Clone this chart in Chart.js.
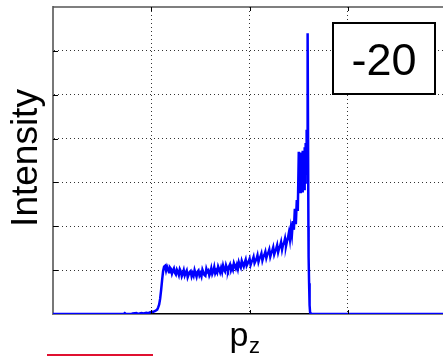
<!DOCTYPE html>
<html>
<head>
<meta charset="utf-8">
<script src="https://cdn.jsdelivr.net/npm/chart.js@4.4.1/dist/chart.umd.min.js"></script>
<style>
  html, body { margin: 0; padding: 0; background: #fff; }
  #plot { display: block; }
</style>
</head>
<body>
<canvas id="plot" width="443" height="356"></canvas>
<script>
// momentum axis (arbitrary units, one unit per grid cell)
const pz = [
  0, 0.70, 0.72, 0.73, 0.74, 0.80, 0.81, 0.85, 0.86, 0.90, 0.92, 0.95, 0.97, 0.99,
  1.02, 1.04, 1.06, 1.07, 1.08, 1.09, 1.10, 1.11, 1.12, 1.13,
  1.14, 1.15, 1.16, 1.17, 1.18, 1.19, 1.20, 1.21, 1.22, 1.23, 1.24, 1.25, 1.26, 1.27, 1.28, 1.29,
  1.30, 1.31, 1.32, 1.33, 1.34, 1.35, 1.36, 1.37, 1.38, 1.39, 1.40, 1.41, 1.42, 1.43, 1.44, 1.45,
  1.46, 1.47, 1.48, 1.49, 1.50, 1.51, 1.52, 1.53, 1.54, 1.55, 1.56, 1.57, 1.58, 1.59, 1.60, 1.61,
  1.62, 1.63, 1.64, 1.65, 1.66, 1.67, 1.68, 1.69, 1.70, 1.71, 1.72, 1.73, 1.74, 1.75, 1.76, 1.77,
  1.78, 1.79, 1.80, 1.81, 1.82, 1.83, 1.84, 1.85, 1.86, 1.87, 1.88, 1.89, 1.90, 1.91, 1.92, 1.93,
  1.94, 1.95, 1.96, 1.97, 1.98, 1.99, 2.00, 2.01, 2.02, 2.03, 2.04, 2.05, 2.06, 2.07, 2.08, 2.09,
  2.10, 2.11, 2.12, 2.13, 2.14, 2.15, 2.16, 2.17, 2.18, 2.19, 2.20, 2.21, 2.22, 2.23, 2.24, 2.25,
  2.26, 2.27, 2.28, 2.29, 2.30, 2.31, 2.32, 2.33, 2.34, 2.35, 2.36, 2.37, 2.38, 2.39, 2.40, 2.41,
  2.42, 2.43, 2.44, 2.45, 2.46, 2.47, 2.48, 2.49, 2.50, 2.505, 2.51, 2.515, 2.52, 2.525, 2.53,
  2.535, 2.54, 2.545, 2.55, 2.555, 2.56, 2.565, 2.57, 2.575, 2.58, 2.585, 2.59, 2.598, 2.60,
  2.605, 2.61, 2.615, 2.62, 4.0
];
const intensity = [
  0, 0, 0, 0.02, 0, 0, 0.01, 0.02, 0, 0.02, 0.01, 0.03, 0.02, 0.04,
  0.05, 0.07, 0.10, 0.15, 0.22, 0.35, 0.55, 0.78, 0.98, 1.08,
  1.10, 0.99, 1.08, 1.02, 0.95, 1.06, 1.03, 0.92, 0.99, 1.04, 0.94, 0.90, 1.01, 0.96, 0.89, 1.02,
  0.97, 0.86, 0.92, 1.00, 0.88, 0.94, 0.99, 0.84, 0.90, 0.96, 0.98, 0.86, 0.93, 0.87, 1.00, 0.92,
  0.85, 0.96, 0.99, 0.88, 0.93, 0.86, 1.01, 0.95, 0.89, 0.87, 1.03, 0.96, 0.99, 0.88, 0.94, 1.04,
  0.91, 0.97, 1.07, 0.93, 0.99, 0.94, 1.08, 1.02, 0.95, 1.05, 0.96, 1.10, 1.01, 0.97, 1.11, 1.04,
  0.99, 1.08, 1.13, 1.00, 1.07, 1.01, 1.16, 1.10, 1.04, 1.12, 1.03, 1.18, 1.11, 1.06, 1.21, 1.14,
  1.08, 1.17, 1.24, 1.10, 1.15, 1.20, 1.26, 1.12, 1.19, 1.23, 1.30, 1.16, 1.21, 1.26, 1.34, 1.19,
  1.27, 1.31, 1.38, 1.22, 1.30, 1.35, 1.42, 1.28, 1.36, 1.40, 1.47, 1.31, 1.39, 1.44, 1.52, 1.36,
  1.43, 1.49, 1.57, 1.41, 1.50, 1.55, 1.64, 1.47, 1.58, 1.62, 1.72, 1.55, 1.66, 1.74, 1.86, 1.70,
  1.95, 1.80, 2.12, 1.92, 2.40, 2.05, 2.60, 2.35, 3.70, 2.85, 3.55, 2.78, 3.68, 2.90, 3.45,
  2.80, 3.72, 2.95, 3.60, 2.85, 3.80, 3.00, 3.90, 3.20, 4.20, 3.60, 6.40, 2.00, 1.30,
  0.70, 0.20, 0.04, 0, 0
];
const xTicks = [0, 1, 2, 3];
const yTicks = [0, 1, 2, 3, 4, 5, 6, 7];
const yTitle = 'Intensity';
const xTitle = 'p';
const xTitleSub = 'z';
const panelLabel = '-20';

const FONT = '"Liberation Sans", Arial, Helvetica, sans-serif';

const decorations = {
    id: 'decorations',
    afterDraw(chart) {
        const ctx = chart.ctx;
        const a = chart.chartArea;
        const xs = chart.scales.x;
        const ys = chart.scales.y;
        ctx.save();

        // top box edge
        ctx.strokeStyle = '#555';
        ctx.lineWidth = 1.5;
        ctx.beginPath();
        ctx.moveTo(a.left, a.top);
        ctx.lineTo(a.right, a.top);
        ctx.stroke();

        // inward ticks
        ctx.strokeStyle = '#000';
        ctx.lineWidth = 1;
        ctx.beginPath();
        xTicks.slice(1).forEach(v => {
            const px = Math.round(xs.getPixelForValue(v)) + 0.5;
            ctx.moveTo(px, a.bottom);
            ctx.lineTo(px, a.bottom - 4);
            ctx.moveTo(px, a.top);
            ctx.lineTo(px, a.top + 4);
        });
        yTicks.slice(1, -1).forEach(v => {
            const py = Math.round(ys.getPixelForValue(v)) + 0.5;
            ctx.moveTo(a.left, py);
            ctx.lineTo(a.left + 5, py);
        });
        ctx.stroke();

        // panel label box
        ctx.fillStyle = '#fff';
        ctx.fillRect(333, 23, 102, 71);
        ctx.strokeStyle = '#000';
        ctx.lineWidth = 2;
        ctx.strokeRect(333, 23, 102, 71);
        ctx.fillStyle = '#000';
        ctx.font = '45px ' + FONT;
        ctx.textAlign = 'center';
        ctx.textBaseline = 'alphabetic';
        ctx.fillText(panelLabel, 384, 75);

        // y title
        ctx.save();
        ctx.translate(37, 158);
        ctx.rotate(-Math.PI / 2);
        ctx.font = '37px ' + FONT;
        ctx.textAlign = 'center';
        ctx.fillText(yTitle, 0, 0);
        ctx.restore();

        // x title with subscript
        ctx.textAlign = 'left';
        ctx.font = '34px ' + FONT;
        ctx.fillText(xTitle, 229.5, 346);
        ctx.font = '22px ' + FONT;
        ctx.fillText(xTitleSub, 249, 353);

        // stray legend stroke from the neighbouring panel
        ctx.strokeStyle = '#e01030';
        ctx.lineWidth = 2;
        ctx.beginPath();
        ctx.moveTo(47, 355);
        ctx.lineTo(153, 355);
        ctx.stroke();

        ctx.restore();
    }
};

const gridColor = ctx => (ctx.tick && ctx.tick.value === 0) ? 'rgba(0,0,0,0)' : '#333';

new Chart(document.getElementById('plot').getContext('2d'), {
    type: 'line',
    data: {
        datasets: [{
            data: pz.map((x, i) => ({ x: x, y: intensity[i] })),
            borderColor: '#0000ff',
            borderWidth: 2.5,
            pointRadius: 0,
            tension: 0,
            fill: false
        }]
    },
    options: {
        responsive: false,
        animation: false,
        layout: { padding: { left: 53, top: 7, right: 0, bottom: 42 } },
        plugins: { legend: { display: false }, tooltip: { enabled: false } },
        scales: {
            x: {
                type: 'linear',
                min: 0,
                max: 3.967,
                afterBuildTicks: s => { s.ticks = xTicks.map(v => ({ value: v })); },
                ticks: { display: false },
                grid: { color: gridColor, lineWidth: 1, drawTicks: false },
                border: { display: true, color: '#000', width: 1.5, dash: [1, 3] }
            },
            y: {
                min: 0,
                max: 7,
                afterBuildTicks: s => { s.ticks = yTicks.map(v => ({ value: v })); },
                ticks: { display: false },
                grid: {
                    color: ctx => (ctx.tick && (ctx.tick.value === 0 || ctx.tick.value === 7)) ? 'rgba(0,0,0,0)' : '#333',
                    lineWidth: 1,
                    drawTicks: false
                },
                border: { display: true, color: '#777', width: 2, dash: [1, 3] }
            }
        }
    },
    plugins: [decorations]
});
</script>
</body>
</html>
